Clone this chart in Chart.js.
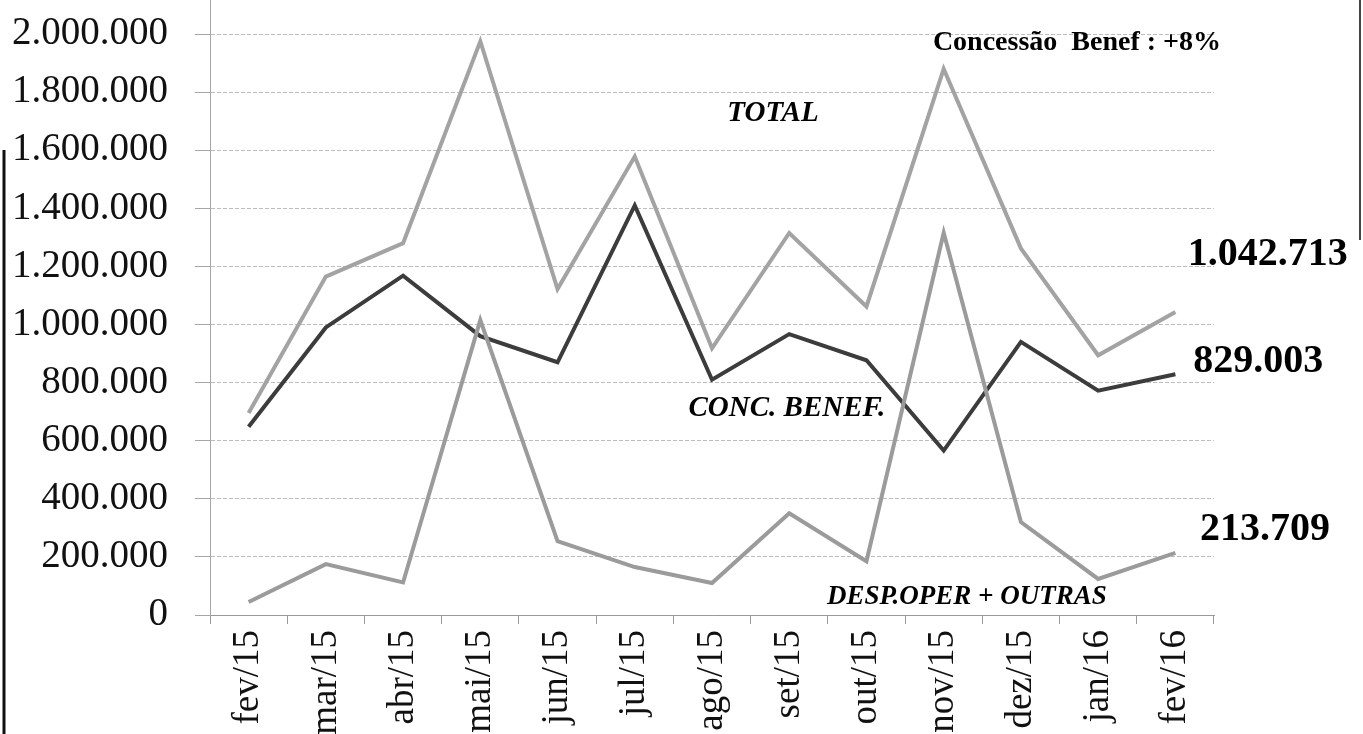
<!DOCTYPE html>
<html>
<head>
<meta charset="utf-8">
<script src="https://cdn.jsdelivr.net/npm/chart.js@4.4.0/dist/chart.umd.min.js"></script>
<style>
  html, body { margin: 0; padding: 0; background: #fff; }
  #wrap { position: relative; width: 1363px; height: 734px; }
</style>
</head>
<body>
<div id="wrap"><canvas id="chart"></canvas></div>
<script>
// months on the x axis
const months = ['fev/15', 'mar/15', 'abr/15', 'mai/15', 'jun/15', 'jul/15', 'ago/15',
                'set/15', 'out/15', 'nov/15', 'dez/15', 'jan/16', 'fev/16'];

// values (last point from the printed labels)
const total = [695000, 1165000, 1280000, 1975000, 1122000, 1578000, 918000,
               1315000, 1062000, 1880000, 1262000, 894000, 1042713];
const concBenef = [648000, 990000, 1168000, 960000, 870000, 1410000, 810000,
                   967000, 877000, 566000, 940000, 772000, 829003];
const despOper = [45000, 175000, 112000, 1015000, 254000, 165000, 110000,
                  350000, 185000, 1316000, 320000, 124000, 213709];

const yTicks = [0, 200000, 400000, 600000, 800000, 1000000, 1200000, 1400000,
                1600000, 1800000, 2000000];

const SERIF = "'Liberation Serif', 'Times New Roman', serif";

function fmtNum(v) {
    return String(Math.round(v)).replace(/\B(?=(\d{3})+(?!\d))/g, '.');
}

// free text on the plot, placed in data units (x = category index, y = value)
const notes = [
    { text: 'Concessão  Benef : +8%', x: 8.86, y: 1969000, font: 'bold 28px ' + SERIF, align: 'left' },
    { text: 'TOTAL', x: 6.79, y: 1728000, font: 'italic bold 29px ' + SERIF, align: 'center' },
    { text: 'CONC. BENEF.', x: 6.97, y: 712000, font: 'italic bold 29px ' + SERIF, align: 'center' },
    { text: 'DESP.OPER + OUTRAS', x: 9.3, y: 62000, font: 'italic bold 27px ' + SERIF, align: 'center' },
    { text: fmtNum(total[total.length - 1]), x: 12.16, y: 1239000, font: 'bold 40px ' + SERIF, align: 'left' },
    { text: fmtNum(concBenef[concBenef.length - 1]), x: 12.23, y: 871000, font: 'bold 40px ' + SERIF, align: 'left' },
    { text: fmtNum(despOper[despOper.length - 1]), x: 12.32, y: 293000, font: 'bold 40px ' + SERIF, align: 'left' }
];

const notesPlugin = {
    id: 'notes',
    afterDraw(chart) {
        const ctx = chart.ctx;
        const xs = chart.scales.x, ys = chart.scales.y;
        const area = chart.chartArea;
        ctx.save();
        // y axis line runs up past the top tick, as in the scan
        ctx.strokeStyle = '#a6a6a6';
        ctx.lineWidth = 1;
        ctx.beginPath();
        ctx.moveTo(area.left + 0.5, 0);
        ctx.lineTo(area.left + 0.5, area.top);
        ctx.stroke();
        // page edges visible in the scan
        ctx.strokeStyle = '#111';
        ctx.lineWidth = 3;
        ctx.beginPath();
        ctx.moveTo(4, 150);
        ctx.lineTo(4, 734);
        ctx.stroke();
        ctx.strokeStyle = '#444';
        ctx.lineWidth = 2;
        ctx.beginPath();
        ctx.moveTo(1360, 0);
        ctx.lineTo(1360, 240);
        ctx.stroke();

        ctx.fillStyle = '#000';
        ctx.textBaseline = 'middle';
        notes.forEach(function(n) {
            ctx.font = n.font;
            ctx.textAlign = n.align;
            ctx.fillText(n.text, xs.getPixelForValue(n.x), ys.getPixelForValue(n.y));
        });
        ctx.restore();
    }
};

new Chart(document.getElementById('chart'), {
    type: 'line',
    data: {
        labels: months,
        datasets: [
            { label: 'DESP.OPER + OUTRAS', data: despOper, borderColor: '#9b9b9b' },
            { label: 'CONC. BENEF.', data: concBenef, borderColor: '#3c3c3c' },
            { label: 'TOTAL', data: total, borderColor: '#a3a3a3' }
        ]
    },
    options: {
        responsive: true,
        maintainAspectRatio: false,
        animation: false,
        layout: { padding: { top: 34, right: 149, left: 0, bottom: 0 } },
        elements: {
            line: { borderWidth: 4, tension: 0, borderJoinStyle: 'miter' },
            point: { radius: 0 }
        },
        scales: {
            x: {
                offset: true,
                grid: { display: true, offset: true, drawOnChartArea: false, drawTicks: true,
                        tickLength: 9, tickColor: '#999' },
                border: { display: true, color: '#999', width: 1 },
                ticks: { autoSkip: false, minRotation: 90, maxRotation: 90, padding: 6,
                         color: '#111', font: { family: SERIF, size: 37 } },
                afterFit: function(s) { s.height = 119; }
            },
            y: {
                min: 0,
                max: 2000000,
                afterBuildTicks: function(s) { s.ticks = yTicks.map(function(v) { return { value: v }; }); },
                grid: { color: '#bdbdbd', lineWidth: 1, tickLength: 15, tickColor: '#a6a6a6' },
                border: { display: true, color: '#a6a6a6', width: 1, dash: [4, 2] },
                ticks: { padding: 27, color: '#111', font: { family: SERIF, size: 39 },
                         callback: function(v) { return fmtNum(v); } },
                afterFit: function(s) {
                    s.width = 210;
                    s.paddingTop = 0;
                    s.paddingBottom = 0;
                }
            }
        },
        plugins: {
            legend: { display: false },
            tooltip: { enabled: false }
        }
    },
    plugins: [notesPlugin]
});
</script>
</body>
</html>
